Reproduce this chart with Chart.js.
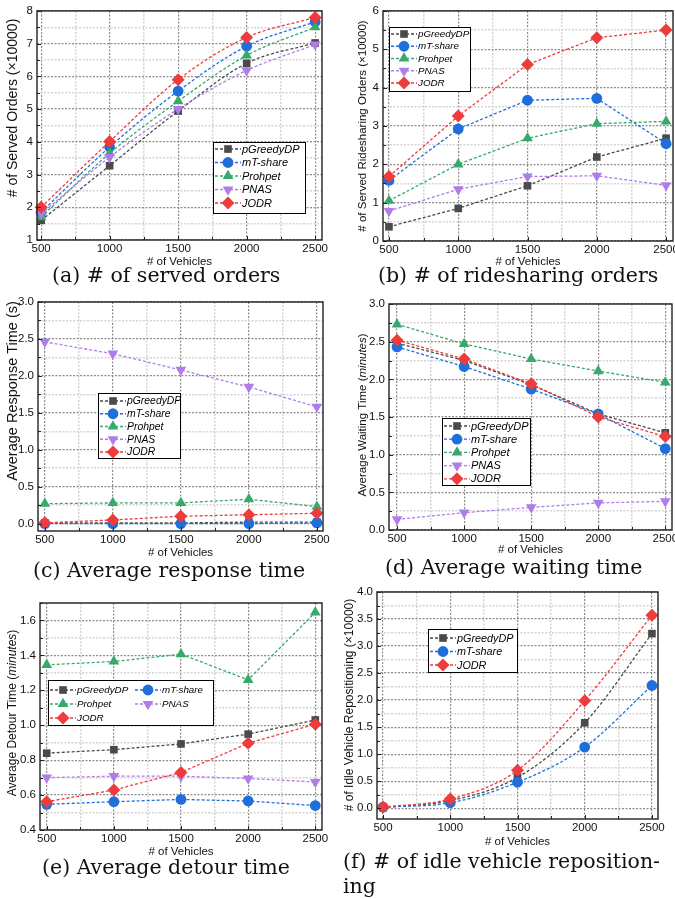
<!DOCTYPE html>
<html>
<head>
<meta charset="utf-8">
<title>Ridesharing results</title>
<script src="https://cdn.jsdelivr.net/npm/chart.js@4.4.1/dist/chart.umd.min.js"></script>
<style>
  html, body { margin: 0; padding: 0; background: #fff; overflow: hidden; }
  #page { position: relative; width: 675px; height: 899px; overflow: hidden; }
  canvas { position: absolute; }
  .cap { position: absolute; font-family: 'DejaVu Serif', serif; font-size: 20.5px; line-height: 25px; white-space: nowrap; color: #111; }
</style>
</head>
<body>
<div id="page">
  <canvas id="pa"></canvas>
  <canvas id="pb"></canvas>
  <canvas id="pc"></canvas>
  <canvas id="pd"></canvas>
  <canvas id="pe"></canvas>
  <canvas id="pf"></canvas>
  <div class="cap" style="left:52px;top:263px">(a) # of served orders</div>
  <div class="cap" style="left:378px;top:263px">(b) # of ridesharing orders</div>
  <div class="cap" style="left:33px;top:558px">(c) Average response time</div>
  <div class="cap" style="left:385px;top:555px">(d) Average waiting time</div>
  <div class="cap" style="left:42px;top:855px">(e) Average detour time</div>
  <div class="cap" style="left:343px;top:849px">(f) # of idle vehicle reposition-<br>ing</div>
</div>
<script>
const vehicles = [500, 1000, 1500, 2000, 2500];
const xTicks = [500, 750, 1000, 1250, 1500, 1750, 2000, 2250, 2500];
const xLabels = [500, 1000, 1500, 2000, 2500];
const methods = ['pGreedyDP', 'mT-share', 'Prohpet', 'PNAS', 'JODR'];

// (a) served orders (x10000)
const servedGreedy = [1.6, 3.27, 4.94, 6.4, 7.02];
const servedMT = [1.85, 3.84, 5.55, 6.92, 7.67];
const servedProhpet = [1.7, 3.65, 5.24, 6.64, 7.5];
const servedPNAS = [1.8, 3.53, 5.0, 6.18, 6.97];
const servedJODR = [2.0, 4.01, 5.9, 7.19, 7.8];
const aYTicks = [1, 1.5, 2, 2.5, 3, 3.5, 4, 4.5, 5, 5.5, 6, 6.5, 7, 7.5, 8];
const aYLabels = [1, 2, 3, 4, 5, 6, 7, 8];

// (b) ridesharing orders (x10000)
const shareGreedy = [0.37, 0.85, 1.44, 2.19, 2.68];
const shareMT = [1.58, 2.92, 3.67, 3.72, 2.54];
const shareProhpet = [1.05, 2.0, 2.68, 3.06, 3.12];
const sharePNAS = [0.78, 1.35, 1.68, 1.7, 1.45];
const shareJODR = [1.68, 3.26, 4.6, 5.3, 5.5];
const bYTicks = [0, 0.5, 1, 1.5, 2, 2.5, 3, 3.5, 4, 4.5, 5, 5.5, 6];
const bYLabels = [0, 1, 2, 3, 4, 5, 6];

// (c) response time (s)
const respGreedy = [0.01, 0.01, 0.01, 0.02, 0.02];
const respMT = [0.0, 0.0, 0.0, 0.0, 0.01];
const respProhpet = [0.27, 0.28, 0.28, 0.33, 0.23];
const respPNAS = [2.46, 2.3, 2.08, 1.85, 1.58];
const respJODR = [0.01, 0.05, 0.1, 0.12, 0.14];
const cYTicks = [0, 0.25, 0.5, 0.75, 1, 1.25, 1.5, 1.75, 2, 2.25, 2.5, 2.75, 3];
const cYLabels = [0, 0.5, 1, 1.5, 2, 2.5, 3];

// (d) waiting time (minutes)
const waitGreedy = [2.48, 2.25, 1.93, 1.54, 1.29];
const waitMT = [2.43, 2.17, 1.87, 1.54, 1.08];
const waitProhpet = [2.73, 2.47, 2.27, 2.11, 1.96];
const waitPNAS = [0.14, 0.23, 0.3, 0.36, 0.38];
const waitJODR = [2.52, 2.27, 1.94, 1.5, 1.24];
const dYTicks = [0, 0.25, 0.5, 0.75, 1, 1.25, 1.5, 1.75, 2, 2.25, 2.5, 2.75, 3];
const dYLabels = [0, 0.5, 1, 1.5, 2, 2.5, 3];

// (e) detour time (minutes)
const detourGreedy = [0.84, 0.86, 0.893, 0.949, 1.03];
const detourMT = [0.547, 0.562, 0.575, 0.566, 0.54];
const detourProhpet = [1.346, 1.365, 1.407, 1.26, 1.646];
const detourPNAS = [0.7, 0.708, 0.708, 0.695, 0.675];
const detourJODR = [0.562, 0.629, 0.73, 0.897, 1.006];
const eYTicks = [0.4, 0.5, 0.6, 0.7, 0.8, 0.9, 1.0, 1.1, 1.2, 1.3, 1.4, 1.5, 1.6, 1.7];
const eYLabels = [0.4, 0.6, 0.8, 1.0, 1.2, 1.4, 1.6];

// (f) idle vehicle repositioning (x10000)
const idleGreedy = [0.01, 0.14, 0.57, 1.58, 3.23];
const idleMT = [0.02, 0.1, 0.48, 1.13, 2.27];
const idleJODR = [0.02, 0.17, 0.7, 1.99, 3.57];
const fYTicks = [0, 0.25, 0.5, 0.75, 1, 1.25, 1.5, 1.75, 2, 2.25, 2.5, 2.75, 3, 3.25, 3.5, 3.75, 4];
const fYLabels = [0, 0.5, 1, 1.5, 2, 2.5, 3, 3.5, 4];

const styles = {
  'pGreedyDP': { color: '#4a4a4a', point: 'rect', r: 5.4, rot: 0 },
  'mT-share': { color: '#1e6fdc', point: 'circle', r: 5.4, rot: 0 },
  'Prohpet': { color: '#36a96b', point: 'triangle', r: 6.2, rot: 0 },
  'PNAS': { color: '#b07ce8', point: 'triangle', r: 6.2, rot: 180 },
  'JODR': { color: '#ee3c3c', point: 'rectRot', r: 6.5, rot: 0 }
};

const FONT = "'Liberation Sans', Arial, sans-serif";
const has = (arr, v) => arr.some(a => Math.abs(a - v) < 1e-6);

const panels = [
  { id: 'pa', names: methods, series: [servedGreedy, servedMT, servedProhpet, servedPNAS, servedJODR],
    x: [470, 2550], y: [1, 8], yTicks: aYTicks, yLabels: aYLabels, dec: 0, smooth: true,
    canvas: [0, 0, 338, 273], plot: [37, 8, 322, 240],
    yTitle: { x: 13, y: 108, size: 14, parts: [['# of Served Orders (×10000)', false]] },
    legend: { box: [213, 142, 92, 71], first: 149, rowH: 13.5, cols: 1, colW: 0, size: 11 } },
  { id: 'pb', names: methods, series: [shareGreedy, shareMT, shareProhpet, sharePNAS, shareJODR],
    x: [457, 2550], y: [0, 6], yTicks: bYTicks, yLabels: bYLabels, dec: 0, smooth: false,
    canvas: [340, 0, 350, 273], plot: [383, 8, 673, 241],
    yTitle: { x: 363, y: 126, size: 11.5, parts: [['# of Served Ridesharing Orders (×10000)', false]] },
    legend: { box: [389, 27, 81, 64], first: 34, rowH: 12.25, cols: 1, colW: 0, size: 9.8 } },
  { id: 'pc', names: methods, series: [respGreedy, respMT, respProhpet, respPNAS, respJODR],
    x: [450, 2545], y: [-0.1, 3], yTicks: cYTicks, yLabels: cYLabels, dec: 1, smooth: false,
    canvas: [0, 290, 338, 274], plot: [38, 302, 323, 531],
    yTitle: { x: 13, y: 391, size: 14.5, parts: [['Average Response Time (s)', false]] },
    legend: { box: [98, 393, 82, 65], first: 401, rowH: 12.75, cols: 1, colW: 0, size: 10.4 } },
  { id: 'pd', names: methods, series: [waitGreedy, waitMT, waitProhpet, waitPNAS, waitJODR],
    x: [440, 2550], y: [0, 3], yTicks: dYTicks, yLabels: dYLabels, dec: 1, smooth: false,
    canvas: [340, 290, 350, 271], plot: [389, 304, 672, 530],
    yTitle: { x: 363, y: 415, size: 11.5, parts: [['Average Waiting Time (', false], ['minutes', true], [')', false]] },
    legend: { box: [442, 418, 88, 67], first: 426, rowH: 13.2, cols: 1, colW: 0, size: 11 } },
  { id: 'pe', names: methods, series: [detourGreedy, detourMT, detourProhpet, detourPNAS, detourJODR],
    x: [450, 2550], y: [0.4, 1.7], yTicks: eYTicks, yLabels: eYLabels, dec: 1, smooth: false,
    canvas: [0, 590, 338, 273], plot: [40, 603, 322, 830],
    yTitle: { x: 13, y: 713, size: 12, parts: [['Average Detour Time (', false], ['minutes', true], [')', false]] },
    legend: { box: [48, 680, 165, 45], first: 690, rowH: 14, cols: 2, colW: 85, size: 9.8 } },
  { id: 'pf', names: ['pGreedyDP', 'mT-share', 'JODR'], series: [idleGreedy, idleMT, idleJODR],
    x: [455, 2545], y: [-0.2, 4], yTicks: fYTicks, yLabels: fYLabels, dec: 1, smooth: true,
    canvas: [340, 580, 340, 273], plot: [377, 592, 658, 819],
    yTitle: { x: 350, y: 705, size: 12, parts: [['# of Idle Vehicle Repositioning (×10000)', false]] },
    legend: { box: [428, 629, 89, 43], first: 638, rowH: 13.5, cols: 1, colW: 0, size: 10.8 } }
];

// black frame round the plot plus short inward ticks
const framePlugin = {
  id: 'frame',
  afterDatasetsDraw(chart) {
    const { ctx, chartArea: a, scales } = chart;
    ctx.save();
    ctx.strokeStyle = '#222';
    ctx.lineWidth = 1.4;
    ctx.setLineDash([]);
    ctx.strokeRect(a.left, a.top, a.right - a.left, a.bottom - a.top);
    const xl = chart.options.scales.x.labelList, yl = chart.options.scales.y.labelList;
    ctx.lineWidth = 1;
    ctx.beginPath();
    scales.x.ticks.forEach(t => {
      const px = Math.round(scales.x.getPixelForValue(t.value)) + 0.5;
      const len = has(xl, t.value) ? 4 : 3;
      ctx.moveTo(px, a.bottom); ctx.lineTo(px, a.bottom - len);
    });
    scales.y.ticks.forEach(t => {
      const py = Math.round(scales.y.getPixelForValue(t.value)) + 0.5;
      const len = has(yl, t.value) ? 4 : 3;
      ctx.moveTo(a.left, py); ctx.lineTo(a.left + len, py);
    });
    ctx.stroke();
    ctx.restore();
  }
};

const legendPlugin = {
  id: 'boxLegend',
  afterDatasetsDraw(chart, args, o) {
    if (!o || !o.box) return;
    const ctx = chart.ctx;
    const [bx, by, bw, bh] = o.box;
    ctx.save();
    ctx.fillStyle = '#fff';
    ctx.fillRect(bx, by, bw, bh);
    ctx.strokeStyle = '#000';
    ctx.lineWidth = 1;
    ctx.setLineDash([]);
    ctx.strokeRect(bx + 0.5, by + 0.5, bw, bh);
    chart.data.datasets.forEach((ds, i) => {
      const row = Math.floor(i / o.cols), col = i % o.cols;
      const x0 = bx + 2 + col * o.colW;
      const y0 = o.first + row * o.rowH;
      ctx.strokeStyle = ds.borderColor;
      ctx.lineWidth = 1.3;
      ctx.setLineDash([3, 2]);
      ctx.beginPath(); ctx.moveTo(x0, y0); ctx.lineTo(x0 + 26, y0); ctx.stroke();
      ctx.setLineDash([]);
      ctx.fillStyle = ds.pointBackgroundColor;
      Chart.helpers.drawPoint(ctx, { pointStyle: ds.pointStyle, radius: ds.pointRadius, rotation: ds.pointRotation, borderWidth: 0 }, x0 + 13, y0);
      ctx.fillStyle = '#000';
      ctx.font = 'italic ' + o.size + 'px ' + FONT;
      ctx.textBaseline = 'middle';
      ctx.fillText(ds.label, x0 + 27, y0 + 0.5);
    });
    ctx.restore();
  }
};

// rotated y-axis title, parts may be italic
const yTitlePlugin = {
  id: 'yTitle',
  afterDraw(chart, args, o) {
    if (!o || !o.parts) return;
    const ctx = chart.ctx;
    const fnt = it => (it ? 'italic ' : '') + o.size + 'px ' + FONT;
    ctx.save();
    ctx.translate(o.x, o.y);
    ctx.rotate(-Math.PI / 2);
    ctx.fillStyle = '#111';
    ctx.textBaseline = 'middle';
    let total = 0;
    o.parts.forEach(p => { ctx.font = fnt(p[1]); total += ctx.measureText(p[0]).width; });
    let x = -total / 2;
    o.parts.forEach(p => { ctx.font = fnt(p[1]); ctx.fillText(p[0], x, 0); x += ctx.measureText(p[0]).width; });
    ctx.restore();
  }
};

function makeChart(p) {
  const el = document.getElementById(p.id);
  const [cl, ct, cw, ch] = p.canvas;
  const [pl, pt, pr, pb] = p.plot;
  el.width = cw; el.height = ch;
  el.style.left = cl + 'px'; el.style.top = ct + 'px';
  const major = '#8c8c8c', minor = '#d4d4d4';
  const lg = p.legend;
  new Chart(el, {
    type: 'line',
    data: {
      datasets: p.names.map((n, i) => {
        const s = styles[n];
        return {
          label: n,
          data: vehicles.map((v, j) => ({ x: v, y: p.series[i][j] })),
          borderColor: s.color, backgroundColor: s.color,
          borderWidth: 1.3, borderDash: [3, 2],
          pointStyle: s.point, pointRadius: s.r, pointHoverRadius: s.r, pointRotation: s.rot,
          pointBackgroundColor: s.color, pointBorderWidth: 0,
          tension: 0, cubicInterpolationMode: p.smooth ? 'monotone' : 'default',
          fill: false, clip: false, order: p.names.length - i
        };
      })
    },
    options: {
      responsive: false, animation: false, events: [],
      layout: { padding: { left: 0, top: pt - ct, right: cl + cw - pr, bottom: 0 } },
      plugins: {
        legend: { display: false }, tooltip: { enabled: false },
        boxLegend: { box: [lg.box[0] - cl, lg.box[1] - ct, lg.box[2], lg.box[3]], first: lg.first - ct, rowH: lg.rowH, cols: lg.cols, colW: lg.colW, size: lg.size },
        yTitle: { x: p.yTitle.x - cl, y: p.yTitle.y - ct, size: p.yTitle.size, parts: p.yTitle.parts }
      },
      scales: {
        x: {
          type: 'linear', min: p.x[0], max: p.x[1], labelList: xLabels,
          afterBuildTicks: a => { a.ticks = xTicks.map(v => ({ value: v })); },
          afterFit: a => { a.height = ct + ch - pb; },
          ticks: { autoSkip: false, maxRotation: 0, padding: 2, color: '#111', font: { family: FONT, size: 11.5 },
                   callback: v => has(xLabels, v) ? String(v) : '' },
          grid: { drawTicks: false, lineWidth: c => has(xLabels, c.tick.value) ? 1.2 : 1.5, color: c => has(xLabels, c.tick.value) ? major : minor },
          border: { display: false, dash: [2, 1.5] },
          title: { display: true, text: '# of Vehicles', color: '#111', font: { family: FONT, size: 11.5 }, padding: { top: 4, bottom: 4 } }
        },
        y: {
          type: 'linear', min: p.y[0], max: p.y[1], labelList: p.yLabels,
          afterBuildTicks: a => { a.ticks = p.yTicks.map(v => ({ value: v })); },
          afterFit: a => { a.width = pl - cl; },
          ticks: { autoSkip: false, padding: 4, color: '#111', font: { family: FONT, size: 11.5 },
                   callback: v => has(p.yLabels, v) ? v.toFixed(p.dec) : '' },
          grid: { drawTicks: false, lineWidth: c => has(p.yLabels, c.tick.value) ? 1.2 : 1.5, color: c => has(p.yLabels, c.tick.value) ? major : minor },
          border: { display: false, dash: [2, 1.5] }
        }
      }
    },
    plugins: [framePlugin, legendPlugin, yTitlePlugin]
  });
}

panels.forEach(makeChart);
</script>
</body>
</html>
